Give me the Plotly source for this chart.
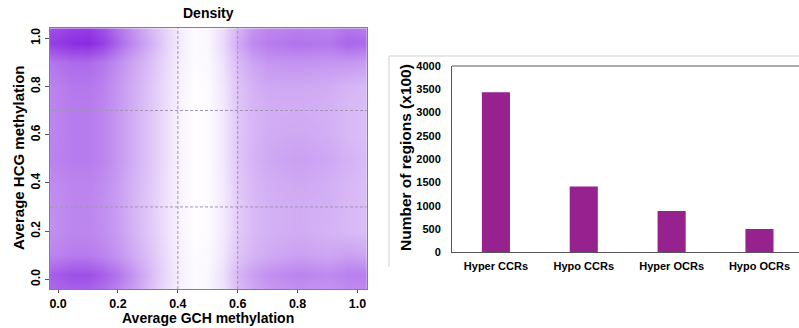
import plotly.graph_objects as go

# ---- Density panel data ----
gch_x = [-0.03, 0.05, 0.1, 0.15, 0.2, 0.25, 0.3, 0.35, 0.4, 0.45, 0.5, 0.55, 0.6, 0.65, 0.7, 0.8, 0.9, 0.97, 1.03]
hcg_y = [-0.04, 0.02, 0.1, 0.2, 0.3, 0.4, 0.5, 0.6, 0.7, 0.8, 0.9, 0.98, 1.04]
density = [
    [0.70, 0.75, 0.75, 0.68, 0.58, 0.45, 0.32, 0.18, 0.07, 0.02, 0.04, 0.14, 0.32, 0.42, 0.48, 0.52, 0.50, 0.55, 0.55],
    [0.75, 0.82, 0.82, 0.75, 0.65, 0.50, 0.35, 0.20, 0.08, 0.02, 0.04, 0.15, 0.35, 0.45, 0.52, 0.58, 0.55, 0.60, 0.60],
    [0.58, 0.62, 0.62, 0.58, 0.50, 0.40, 0.30, 0.18, 0.07, 0.02, 0.03, 0.12, 0.28, 0.36, 0.40, 0.45, 0.42, 0.45, 0.42],
    [0.52, 0.57, 0.57, 0.53, 0.46, 0.36, 0.27, 0.16, 0.06, 0.01, 0.02, 0.10, 0.25, 0.33, 0.37, 0.39, 0.36, 0.33, 0.31],
    [0.52, 0.57, 0.57, 0.52, 0.45, 0.35, 0.26, 0.15, 0.06, 0.01, 0.02, 0.10, 0.25, 0.33, 0.37, 0.39, 0.37, 0.33, 0.31],
    [0.54, 0.58, 0.58, 0.54, 0.46, 0.36, 0.27, 0.16, 0.06, 0.01, 0.02, 0.10, 0.26, 0.34, 0.38, 0.41, 0.38, 0.34, 0.31],
    [0.58, 0.62, 0.62, 0.57, 0.48, 0.38, 0.28, 0.17, 0.06, 0.01, 0.02, 0.11, 0.27, 0.36, 0.41, 0.45, 0.41, 0.36, 0.33],
    [0.57, 0.62, 0.62, 0.57, 0.48, 0.38, 0.28, 0.17, 0.06, 0.01, 0.02, 0.11, 0.27, 0.35, 0.39, 0.41, 0.38, 0.33, 0.31],
    [0.57, 0.62, 0.62, 0.57, 0.48, 0.38, 0.28, 0.17, 0.06, 0.01, 0.02, 0.11, 0.27, 0.35, 0.38, 0.39, 0.37, 0.33, 0.31],
    [0.58, 0.64, 0.64, 0.59, 0.49, 0.39, 0.29, 0.18, 0.07, 0.01, 0.02, 0.12, 0.29, 0.37, 0.41, 0.41, 0.39, 0.35, 0.33],
    [0.64, 0.70, 0.70, 0.64, 0.53, 0.42, 0.32, 0.20, 0.08, 0.02, 0.03, 0.14, 0.33, 0.43, 0.49, 0.51, 0.49, 0.49, 0.46],
    [0.90, 0.98, 1.00, 0.90, 0.72, 0.55, 0.40, 0.24, 0.10, 0.02, 0.04, 0.18, 0.40, 0.55, 0.62, 0.66, 0.64, 0.72, 0.70],
    [0.82, 0.90, 0.92, 0.82, 0.66, 0.50, 0.36, 0.22, 0.09, 0.02, 0.04, 0.16, 0.36, 0.50, 0.56, 0.60, 0.58, 0.65, 0.62],
]
grid_x_lines = [0.4, 0.6]
grid_y_lines = [0.3, 0.7]
density_ticks = [0.0, 0.2, 0.4, 0.6, 0.8, 1.0]

# ---- Bar panel data ----
region_types = ["Hyper CCRs", "Hypo CCRs", "Hyper OCRs", "Hypo OCRs"]
region_counts = [3435, 1410, 888, 500]
count_ticks = [0, 500, 1000, 1500, 2000, 2500, 3000, 3500, 4000]

FONT = "Liberation Sans, Arial, sans-serif"

fig = go.Figure()

fig.add_trace(go.Heatmap(
    x=gch_x, y=hcg_y, z=density,
    zmin=0, zmax=1, zsmooth="best",
    colorscale=[[0, "#FFFFFF"], [1, "#8A2BE2"]],
    showscale=False, xaxis="x", yaxis="y", hoverinfo="skip",
))

fig.add_trace(go.Bar(
    x=region_types, y=region_counts,
    marker=dict(color="#96228F", line=dict(width=0)),
    width=0.32, xaxis="x2", yaxis="y2",
))

fig.update_layout(
    width=799, height=328,
    margin=dict(l=0, r=0, t=0, b=0, autoexpand=False),
    paper_bgcolor="white", plot_bgcolor="white",
    showlegend=False,
    xaxis=dict(
        domain=[0.0626, 0.459], range=[-0.027, 1.031],
        tickvals=density_ticks, ticktext=[f"{v:.1f}" for v in density_ticks],
        ticks="outside", ticklen=3, tickcolor="#555555",
        tickfont=dict(family=FONT, size=12.5, color="#000000", weight="bold"),
        showline=True, mirror=True, linecolor="#857A95", linewidth=1,
        showgrid=False, zeroline=False, automargin=False,
        anchor="y",
    ),
    yaxis=dict(
        domain=[0.119, 0.914], range=[-0.040, 1.041],
        tickvals=density_ticks, ticktext=[f"{v:.1f}" for v in density_ticks],
        ticks="outside", ticklen=4, tickcolor="#555555",
        tickfont=dict(family=FONT, size=12, color="#000000", weight="bold"), tickangle=-90,
        showline=True, mirror=True, linecolor="#857A95", linewidth=1,
        showgrid=False, zeroline=False, automargin=False,
        anchor="x",
    ),
    xaxis2=dict(
        domain=[0.5657, 1.0], range=[-0.5, 3.45],
        tickfont=dict(family=FONT, size=11, color="#000000", weight="bold"),
        showline=True, linecolor="#555555", linewidth=1,
        ticks="", showgrid=False, zeroline=False, automargin=False,
        ticklabelstandoff=4,
        anchor="y2",
    ),
    yaxis2=dict(
        domain=[0.2308, 0.7988], range=[0, 4000],
        tickvals=count_ticks,
        tickfont=dict(family=FONT, size=11, color="#000000", weight="bold"),
        showline=True, linecolor="#555555", linewidth=1,
        ticks="", showgrid=False, zeroline=False, automargin=False,
        ticklabelstandoff=8,
        anchor="x2",
    ),
    annotations=[
        dict(text="<b>Density</b>", x=208/799, y=1-13/328, xref="paper", yref="paper",
             xanchor="center", yanchor="middle", showarrow=False,
             font=dict(family=FONT, size=14, color="#000000")),
        dict(text="<b>Average GCH methylation</b>", x=208/799, y=1-318/328, xref="paper", yref="paper",
             xanchor="center", yanchor="middle", showarrow=False,
             font=dict(family=FONT, size=14, color="#000000")),
        dict(text="<b>Average HCG methylation</b>", x=18/799, y=1-158/328, xref="paper", yref="paper",
             xanchor="center", yanchor="middle", showarrow=False, textangle=-90,
             font=dict(family=FONT, size=15, color="#000000")),
        dict(text="<b>Number of regions (x100)</b>", x=405/799, y=1-158/328, xref="paper", yref="paper",
             xanchor="center", yanchor="middle", showarrow=False, textangle=-90,
             font=dict(family=FONT, size=15.5, color="#000000")),
    ],
)

shapes = []
for gx in grid_x_lines:
    shapes.append(dict(type="line", xref="x", yref="y domain", x0=gx, x1=gx, y0=0, y1=1,
                       line=dict(color="#A193B3", width=1, dash="3px,2px"), layer="above"))
for gy in grid_y_lines:
    shapes.append(dict(type="line", xref="x domain", yref="y", x0=0, x1=1, y0=gy, y1=gy,
                       line=dict(color="#A193B3", width=1, dash="3px,2px"), layer="above"))
# top line of bar panel
shapes.append(dict(type="line", xref="x2 domain", yref="y2 domain", x0=0, x1=1, y0=1, y1=1,
                   line=dict(color="#555555", width=1)))
# light frame around bar panel
shapes.append(dict(type="line", xref="paper", yref="paper", x0=389/799, x1=1.0, y0=1-56/328, y1=1-56/328,
                   line=dict(color="#D0D0D0", width=1)))
shapes.append(dict(type="line", xref="paper", yref="paper", x0=389/799, x1=389/799, y0=1-56/328, y1=1-267/328,
                   line=dict(color="#D0D0D0", width=1)))
fig.update_layout(shapes=shapes)

fig.write_html("out.html", config={"displayModeBar": False},
               post_script="document.body.style.margin='0px';")
